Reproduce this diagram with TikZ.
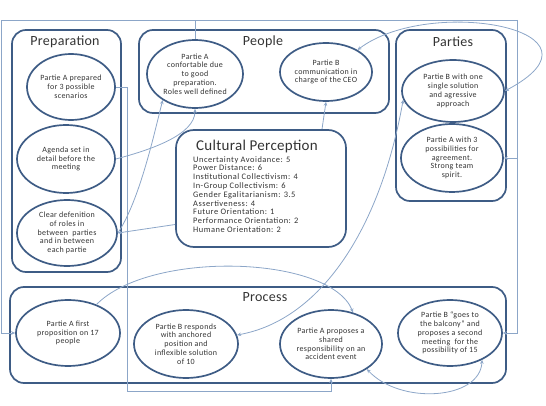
\documentclass[tikz,border=0pt]{standalone}
\usepackage{fontspec}
\setmainfont{Carlito}
\newfontfamily\bubfont[LetterSpace=4]{Carlito}
\newfontfamily\cultfont[LetterSpace=6]{Carlito}
\newfontfamily\ttlfont[LetterSpace=2]{Carlito}
\usetikzlibrary{shapes.geometric,arrows.meta}
\definecolor{bord}{HTML}{3E5C85}
\definecolor{conn}{HTML}{8CA6C8}
\definecolor{txt}{HTML}{333333}
\begin{document}
\begin{tikzpicture}[x=1pt,y=-1pt,
  panel/.style={draw=bord,line width=1.7pt,rounded corners=14pt,inner sep=0pt},
  bub/.style={ellipse,draw=bord,line width=1.7pt,inner sep=0pt,align=center,text=txt,
    font=\bubfont\fontsize{8}{8.8}\selectfont},
  ttl/.style={text=txt,font=\ttlfont\fontsize{14}{16}\selectfont,inner sep=0pt},
  link/.style={draw=conn,line width=0.8pt},
  tip/.style={-{Stealth[length=4pt,width=3.6pt]}},
  tips/.style={{Stealth[length=4pt,width=3.6pt]}-{Stealth[length=4pt,width=3.6pt]}}]
\useasboundingbox (0,0) rectangle (546,406);

% panels
\node[panel,minimum width=109pt,minimum height=242pt] (prep) at (66.5,151) {};
\node[panel,minimum width=250pt,minimum height=83pt] (people) at (264,71.5) {};
\node[panel,minimum width=110pt,minimum height=171pt] (parties) at (451,115.5) {};
\node[panel,minimum width=170pt,minimum height=117pt,rounded corners=18pt] (cult) at (261,188.5) {};
\node[panel,minimum width=496pt,minimum height=96pt] (proc) at (258,335) {};

% titles
\node[ttl] (tprep) at (65,42) {Preparation};
\node[ttl] (tpeople) at (263,42) {People};
\node[ttl] (tparties) at (453,42) {Parties};
\node[ttl,font=\ttlfont\fontsize{15}{17}\selectfont] (tcult) at (257,147) {Cultural Perception};
\node[ttl] (tproc) at (265,297) {Process};

% cultural text
\node[anchor=north west,align=left,inner sep=0pt,text=txt,font=\cultfont\fontsize{8.4}{8.8}\selectfont] (cultxt) at (193,156)
{Uncertainty Avoidance: 5\\Power Distance: 6\\Institutional Collectivism: 4\\In-Group Collectivism: 6\\Gender Egalitarianism: 3.5\\Assertiveness: 4\\Future Orientation: 1\\Performance Orientation: 2\\Humane Orientation: 2};

% ellipses
\node[bub,minimum width=88pt,minimum height=66pt] (prepA) at (71,87) {Partie A prepared\\for 3 possible\\scenarios};
\node[bub,minimum width=98pt,minimum height=68pt] (agenda) at (66,159) {Agenda set in\\detail before the\\meeting};
\node[bub,minimum width=100pt,minimum height=66pt] (clear) at (67,233) {Clear defenition\\of roles in\\between \ parties\\and in between\\each partie};
\node[bub,minimum width=96pt,minimum height=68pt] (conf) at (195,74) {Partie A\\confortable due\\to good\\preparation.\\Roles well defined};
\node[bub,minimum width=92pt,minimum height=58pt] (pbcom) at (326,72) {Partie B\\communication in\\charge of the CEO};
\node[bub,minimum width=102pt,minimum height=62pt] (pbsingle) at (453,91) {Partie B with one\\single solution\\and agressive\\approach};
\node[bub,minimum width=102pt,minimum height=68pt] (pa3) at (452,158) {Partie A with 3\\possibilities for\\agreement.\\Strong team\\spirit.};
\node[bub,minimum width=104pt,minimum height=66pt] (pafirst) at (68,333) {Partie A first\\proposition on 17\\people};
\node[bub,minimum width=104pt,minimum height=68pt] (pbresp) at (186,344) {Partie B responds\\with anchored\\position and\\inflexible solution\\of 10};
\node[bub,minimum width=102pt,minimum height=68pt] (paprop) at (331,344) {Partie A proposes a\\shared\\responsibility on an\\accident event};
\node[bub,minimum width=104pt,minimum height=66pt] (balc) at (450,333) {Partie B “goes to\\the balcony” and\\proposes a second\\meeting \ for the\\possibility of 15};

% connectors
\coordinate (tl) at (1,20);
\coordinate (tr) at (517,20);
\coordinate (bl) at (127,391);
\draw[link,tip] (conf.north) |- (tl) |- (pafirst.west);
\draw[link,tip] (conf.north) |- (tr) |- (balc.east);
\draw[link,tip] (tr) |- (pa3.east);
\draw[link,tip] (prepA.east) -| (bl) -| (paprop.south);
\draw[link,tip] (agenda.east) .. controls (150,150) and (195,135) .. (conf.south);
\draw[link,tip] (clear.east) .. controls (140,200) and (155,130) .. (conf.219);
\draw[link,tip] ([yshift=-36pt]cult.west) -- (clear.east);
\draw[link,tip] ([xshift=61pt]cult.north) -- (pbcom.south);
\draw[link,tips] (pbcom.35) .. controls (430,-5) and (620,30) .. (pbsingle.east);
\draw[link,tips] (pbsingle.190) .. controls (380,230) and (320,320) .. (pbresp.10);
\draw[link,tip] (pafirst.45) .. controls (150,250) and (330,255) .. (paprop.55);
\draw[link,tips] (paprop.-35) .. controls (400,405) and (480,400) .. (balc.-40);
\end{tikzpicture}
\end{document}
